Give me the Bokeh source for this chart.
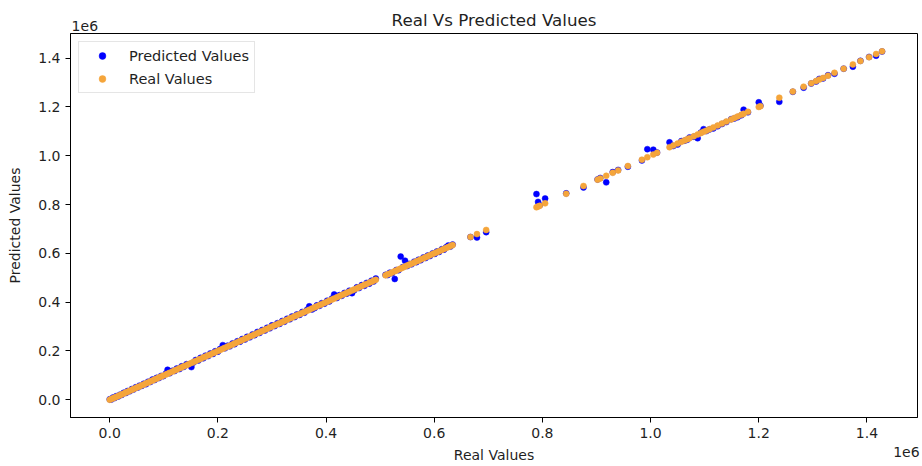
from bokeh.plotting import figure
from bokeh.models import (Range1d, FixedTicker, NumeralTickFormatter, LinearAxis,
                          Legend, LegendItem)
from bokeh.embed import file_html
from bokeh.resources import INLINE

# Values in millions (axis offset shown as "1e6")
real_values = [
    0.000, 0.003, 0.006, 0.009, 0.012, 0.016, 0.019, 0.022, 0.026, 0.030,
    0.033, 0.037, 0.041, 0.044, 0.048, 0.052, 0.055, 0.059, 0.063, 0.067,
    0.071, 0.075, 0.079, 0.083, 0.087, 0.091, 0.095, 0.099, 0.104, 0.107,
    0.111, 0.116, 0.120, 0.124, 0.129, 0.133, 0.137, 0.142, 0.146, 0.151,
    0.155, 0.159, 0.164, 0.168, 0.173, 0.177, 0.182, 0.186, 0.191, 0.195,
    0.200, 0.204, 0.209, 0.213, 0.218, 0.222, 0.227, 0.231, 0.236, 0.241,
    0.245, 0.250, 0.254, 0.259, 0.264, 0.268, 0.273, 0.277, 0.282, 0.287,
    0.291, 0.296, 0.300, 0.305, 0.310, 0.314, 0.319, 0.323, 0.328, 0.333,
    0.337, 0.342, 0.346, 0.351, 0.356, 0.360, 0.365, 0.369, 0.374, 0.379,
    0.383, 0.388, 0.392, 0.397, 0.402, 0.406, 0.411, 0.415, 0.420, 0.425,
    0.429, 0.434, 0.438, 0.443, 0.448, 0.452, 0.457, 0.461, 0.466, 0.471,
    0.475, 0.480, 0.484, 0.488, 0.492,
    0.510, 0.514, 0.518, 0.522, 0.527, 0.530, 0.534, 0.538, 0.542, 0.546,
    0.550, 0.554, 0.558, 0.563, 0.567, 0.571, 0.575, 0.580, 0.584, 0.588,
    0.592, 0.597, 0.601, 0.605, 0.609, 0.614, 0.618, 0.622, 0.626, 0.630,
    0.634,
    0.667, 0.679, 0.696,
    0.789, 0.792, 0.795, 0.805, 0.844, 0.876, 0.902, 0.907, 0.918, 0.930,
    0.940, 0.958, 0.984, 0.994, 1.005, 1.012,
    1.035, 1.042, 1.050, 1.057, 1.063, 1.068, 1.072, 1.080, 1.087, 1.093,
    1.098, 1.103, 1.109, 1.116, 1.124, 1.132, 1.140, 1.149, 1.155, 1.161,
    1.168, 1.172, 1.180, 1.200, 1.203, 1.238, 1.263, 1.283, 1.297, 1.306,
    1.312, 1.319, 1.328, 1.340, 1.357, 1.374, 1.388, 1.404, 1.417, 1.428,
]

predicted_values = [
    0.002, 0.001, 0.009, 0.007, 0.015, 0.014, 0.021, 0.020, 0.029, 0.028,
    0.036, 0.035, 0.044, 0.042, 0.051, 0.050, 0.058, 0.057, 0.066, 0.064,
    0.074, 0.073, 0.083, 0.081, 0.090, 0.089, 0.098, 0.097, 0.108, 0.123,
    0.109, 0.119, 0.118, 0.128, 0.126, 0.137, 0.135, 0.146, 0.144, 0.134,
    0.153, 0.163, 0.161, 0.172, 0.170, 0.181, 0.179, 0.190, 0.188, 0.199,
    0.197, 0.208, 0.224, 0.211, 0.222, 0.219, 0.231, 0.228, 0.240, 0.238,
    0.249, 0.247, 0.258, 0.256, 0.268, 0.265, 0.278, 0.274, 0.286, 0.284,
    0.295, 0.293, 0.305, 0.302, 0.314, 0.311, 0.323, 0.320, 0.332, 0.330,
    0.341, 0.339, 0.350, 0.348, 0.360, 0.357, 0.369, 0.383, 0.370, 0.376,
    0.387, 0.385, 0.396, 0.394, 0.406, 0.403, 0.415, 0.432, 0.417, 0.429,
    0.426, 0.438, 0.435, 0.447, 0.437, 0.449, 0.461, 0.458, 0.470, 0.467,
    0.479, 0.476, 0.488, 0.485, 0.497,
    0.512, 0.511, 0.521, 0.519, 0.495, 0.532, 0.531, 0.587, 0.544, 0.570,
    0.548, 0.557, 0.555, 0.566, 0.564, 0.574, 0.572, 0.583, 0.581, 0.591,
    0.589, 0.600, 0.598, 0.608, 0.606, 0.617, 0.615, 0.625, 0.632, 0.628,
    0.636,
    0.667, 0.665, 0.687,
    0.843, 0.811, 0.797, 0.825, 0.846, 0.870, 0.903, 0.909, 0.891, 0.933,
    0.942, 0.955, 0.981, 1.027, 1.025, 1.013,
    1.055, 1.040, 1.046, 1.060, 1.062, 1.066, 1.075, 1.078, 1.072, 1.095,
    1.109, 1.101, 1.108, 1.112, 1.121, 1.130, 1.138, 1.150, 1.153, 1.158,
    1.166, 1.189, 1.178, 1.219, 1.205, 1.221, 1.262, 1.279, 1.296, 1.304,
    1.315, 1.317, 1.330, 1.336, 1.357, 1.365, 1.389, 1.405, 1.410, 1.427,
]

tick_values = [0.0, 0.2, 0.4, 0.6, 0.8, 1.0, 1.2, 1.4]

X_MIN, X_MAX = -0.0725, 1.4935
Y_MIN, Y_MAX = -0.0725, 1.501

# where the "1e6" offset texts sit along the x axis
OFFSET_TOP_X = -0.046
OFFSET_BOTTOM_X = 1.473

FONT = "DejaVu Sans"
TEXT = "#1f1f1f"

p = figure(width=922, height=466, output_backend="svg", toolbar_location=None,
           title=None,
           x_range=Range1d(X_MIN, X_MAX), y_range=Range1d(Y_MIN, Y_MAX),
           min_border_left=70, min_border_right=5, min_border_top=33,
           min_border_bottom=49)
p.background_fill_color = "white"
p.border_fill_color = "white"
p.outline_line_color = "black"
p.outline_line_width = 1
p.xgrid.visible = False
p.ygrid.visible = False


def style_axis(ax):
    ax.major_tick_in = 0
    ax.major_tick_out = 5
    ax.minor_tick_line_color = None
    ax.axis_line_color = "black"
    ax.major_tick_line_color = "black"
    ax.major_label_text_font = FONT
    ax.major_label_text_font_size = "14px"
    ax.major_label_text_color = TEXT
    ax.major_label_standoff = 5
    ax.axis_label_text_font = FONT
    ax.axis_label_text_font_size = "14px"
    ax.axis_label_text_font_style = "normal"
    ax.axis_label_text_color = TEXT


for ax in (p.xaxis[0], p.yaxis[0]):
    ax.ticker = FixedTicker(ticks=tick_values)
    ax.formatter = NumeralTickFormatter(format="0.0")
    style_axis(ax)

p.yaxis.axis_label = "Predicted Values"
p.yaxis.axis_label_standoff = 12


def text_axis(tick, tick_text, label, label_size, tick_standoff, label_standoff):
    ax = LinearAxis(ticker=FixedTicker(ticks=[tick]),
                    major_label_overrides={tick: tick_text})
    style_axis(ax)
    ax.axis_line_color = None
    ax.major_tick_line_color = None
    ax.major_tick_out = 0
    ax.major_label_standoff = tick_standoff
    ax.axis_label = label
    ax.axis_label_text_font_size = label_size
    ax.axis_label_standoff = label_standoff
    return ax


# chart title with the y offset text, and x label with the x offset text
p.add_layout(text_axis(OFFSET_TOP_X, "1e6", "Real Vs Predicted Values",
                       "16.7px", 3, -12), "above")
p.add_layout(text_axis(OFFSET_BOTTOM_X, "1e6", "Real Values",
                       "14px", 6, -13), "below")

r_pred = p.scatter(real_values, predicted_values, size=6, marker="circle",
                   fill_color="#0000ff", line_color="#0000ff", line_width=0.5)
r_real = p.scatter(real_values, real_values, size=6, marker="circle",
                   fill_color="#f5a53a", line_color="#f5a53a", line_width=0.5)

legend = Legend(items=[LegendItem(label="Predicted Values", renderers=[r_pred]),
                       LegendItem(label="Real Values", renderers=[r_real])],
                location="top_left")
legend.margin = 8
legend.padding = 5
legend.spacing = 6
legend.glyph_width = 36
legend.glyph_height = 17
legend.label_height = 17
legend.label_standoff = 9
legend.label_text_font = FONT
legend.label_text_font_size = "14.5px"
legend.label_text_color = TEXT
legend.border_line_color = "#cccccc"
legend.border_line_width = 1
legend.background_fill_color = "white"
legend.background_fill_alpha = 0.8
p.add_layout(legend)

open("out.html", "w").write(file_html(p, INLINE))
